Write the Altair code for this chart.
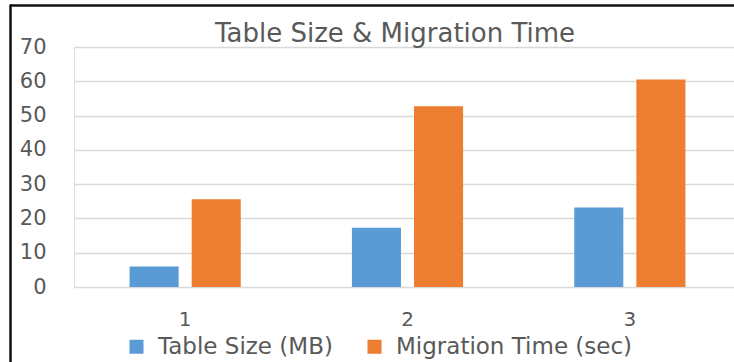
import altair as alt
import pandas as pd

categories = ["1", "2", "3"]
series_names = ["Table Size (MB)", "Migration Time (sec)"]
table_size = [6, 17.3, 23.2]
migration_time = [25.6, 52.7, 60.5]
y_ticks = [0, 10, 20, 30, 40, 50, 60, 70]
colors = ["#5B9BD5", "#ED7D31"]

rows = []
for c, a, b in zip(categories, table_size, migration_time):
    rows.append({"cat": c, "series": series_names[0], "value": a})
    rows.append({"cat": c, "series": series_names[1], "value": b})
df = pd.DataFrame(rows)

FONT = "DejaVu Sans"
GRAY = "#595959"

bars = alt.Chart(df).mark_bar().encode(
    x=alt.X(
        "cat:N",
        sort=categories,
        scale=alt.Scale(range=[0, 667], paddingInner=0.5, paddingOuter=0.25),
        axis=alt.Axis(title=None, labelAngle=0, ticks=False, domain=False, grid=False,
                      labelFontSize=20, labelFont=FONT, labelColor=GRAY, labelPadding=22),
    ),
    xOffset=alt.XOffset("series:N", sort=series_names,
                        scale=alt.Scale(paddingInner=0.21, paddingOuter=0)),
    y=alt.Y(
        "value:Q",
        scale=alt.Scale(domain=[0, 70], nice=False),
        axis=alt.Axis(title=None, values=y_ticks, ticks=False, domain=False,
                      labelFontSize=21, labelFont=FONT, labelColor=GRAY, labelPadding=28,
                      gridColor="#D9D9D9", gridWidth=1.5),
    ),
    color=alt.Color(
        "series:N",
        sort=series_names,
        scale=alt.Scale(domain=series_names, range=colors),
        legend=alt.Legend(title=None, orient="none", legendX=51, legendY=288,
                          direction="horizontal", symbolType="square", symbolSize=196,
                          symbolStrokeWidth=0, labelFontSize=23, labelFont=FONT,
                          labelColor=GRAY, labelOffset=10, columnPadding=30,
                          labelLimit=400, padding=0),
    ),
)

frame_df = pd.DataFrame({"k": [0]})
top_rule = alt.Chart(frame_df).mark_rule(color="#111111", strokeWidth=2.5).encode(
    x=alt.value(-64), x2=alt.value(670), y=alt.value(-41.5)
)
left_rule = alt.Chart(frame_df).mark_rule(color="#111111", strokeWidth=2.5).encode(
    x=alt.value(-63.5), y=alt.value(-42.5), y2=alt.value(330)
)

chart = alt.layer(bars, top_rule, left_rule).properties(
    width=660,
    height=240,
    title=alt.TitleParams("Table Size & Migration Time", fontSize=26, font=FONT,
                          fontWeight="normal", color=GRAY, anchor="middle",
                          frame="group", dx=-9, dy=44, offset=0),
    autosize=alt.AutoSizeParams(type="none"),
    padding={"left": 74, "top": 47, "right": 0, "bottom": 75},
).configure_view(stroke=None).configure(background="white")

chart.save("out.html", embed_options={"renderer": "svg", "actions": False})
